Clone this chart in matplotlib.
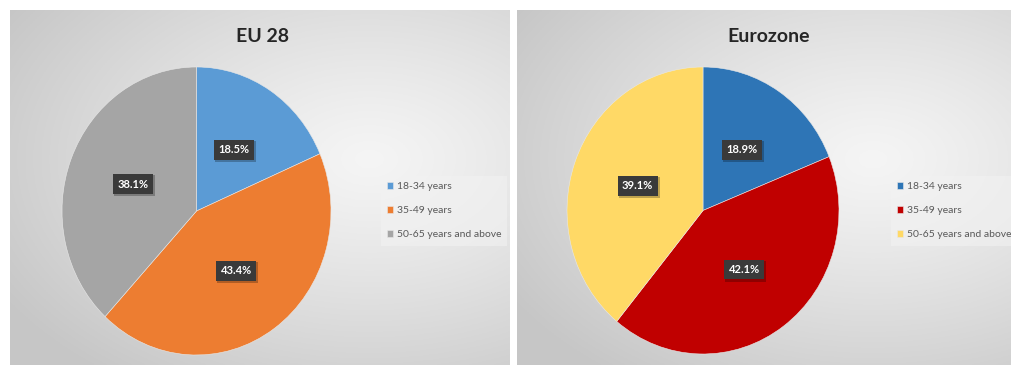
import matplotlib
matplotlib.use("Agg")
import matplotlib.pyplot as plt
import numpy as np

plt.rcParams['font.family'] = ['Lato', 'DejaVu Sans']

W, H = 1012, 365

age_groups = ['18-34 years', '35-49 years', '50-65 years and above']
eu28_share = [18.5, 43.4, 38.1]
eurozone_share = [18.9, 42.1, 39.1]

eu28_colors = ['#5b9bd5', '#ed7d31', '#a5a5a5']
eurozone_colors = ['#2e75b6', '#c00000', '#ffd966']

# pixel boxes (left, top, right, bottom) for each chart
panels = [
    dict(title='EU 28', values=eu28_share, colors=eu28_colors,
         panel=(10, 10, 510, 365), pie=(62, 67, 331, 355),
         title_x=262, legend_xy=(381, 176)),
    dict(title='Eurozone', values=eurozone_share, colors=eurozone_colors,
         panel=(517, 10, 1012, 365), pie=(567, 67, 839, 354),
         title_x=769, legend_xy=(891, 176)),
]


def px_rect(box):
    l, t, r, b = box
    return [l / W, (H - b) / H, (r - l) / W, (b - t) / H]


def radial_bg(ax):
    ny, nx = 200, 280
    x = np.linspace(0, 1, nx)
    y = np.linspace(0, 1, ny)
    xx, yy = np.meshgrid(x, y)
    d = np.sqrt(((xx - 0.72) / 1.0) ** 2 + ((yy - 0.58) / 0.9) ** 2)
    d = np.clip(d / 0.85, 0, 1)
    light = np.array([0.96, 0.96, 0.96])
    dark = np.array([0.78, 0.78, 0.78])
    img = light + (dark - light) * d[..., None] ** 1.2
    ax.imshow(img, extent=(0, 1, 0, 1), origin='lower', aspect='auto')
    ax.set_xlim(0, 1)
    ax.set_ylim(0, 1)
    ax.axis('off')


fig = plt.figure(figsize=(W / 100, H / 100), dpi=100)
fig.patch.set_facecolor('white')

for p in panels:
    bg = fig.add_axes(px_rect(p['panel']))
    radial_bg(bg)

    fig.text(p['title_x'] / W, 1 - 37 / H, p['title'], ha='center', va='center',
             fontsize=14, fontweight='bold', color='#262626')

    ax = fig.add_axes(px_rect(p['pie']))
    wedges, texts, autotexts = ax.pie(
        p['values'], colors=p['colors'], startangle=90, counterclock=False,
        autopct='%.1f%%', pctdistance=0.51,
        wedgeprops=dict(linewidth=0.4, edgecolor='#e8e8e8'),
        textprops=dict(color='white', fontsize=8, fontweight='bold'))
    for t in autotexts:
        x, y = t.get_position()
        # soft drop shadow behind the label box
        ax.text(x + 0.012, y - 0.012, t.get_text(), ha='center', va='center',
                fontsize=8, fontweight='bold', color='none',
                bbox=dict(boxstyle='square,pad=0.45', facecolor='black',
                          edgecolor='none', alpha=0.25), zorder=2)
        t.set_bbox(dict(boxstyle='square,pad=0.4', facecolor='#3a3a3a',
                        edgecolor='none'))
        t.set_zorder(3)
    ax.set_aspect('auto')
    ax.set_xlim(-1, 1)
    ax.set_ylim(-1, 1)
    ax.axis('off')

    lx, ly = p['legend_xy']
    leg = fig.legend(wedges, age_groups, loc='upper left',
                     bbox_to_anchor=(lx / W, 1 - ly / H),
                     fontsize=7.5, frameon=True, fancybox=False,
                     handlelength=0.6, handleheight=0.6, handletextpad=0.3,
                     labelspacing=1.45, borderpad=0.6, borderaxespad=0)
    leg.get_frame().set_facecolor('#f2f2f2')
    leg.get_frame().set_edgecolor('none')
    leg.get_frame().set_alpha(0.6)
    for t in leg.get_texts():
        t.set_color('#595959')

fig.savefig('out.png', dpi=100, facecolor='white')
